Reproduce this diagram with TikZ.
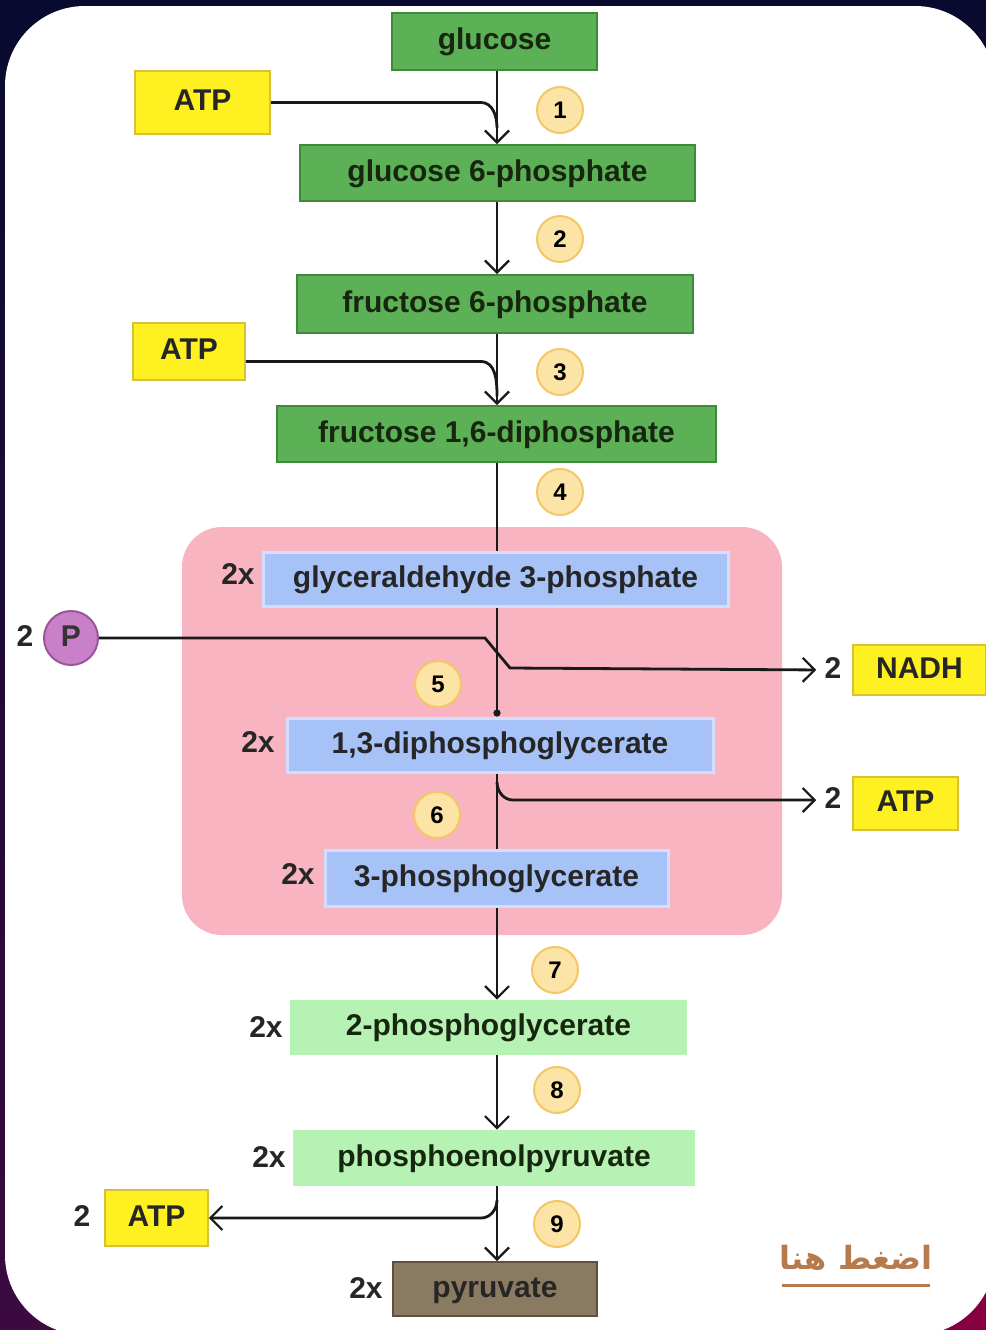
\documentclass[tikz,border=0pt]{standalone}
\usepackage{fontspec}
\setmainfont{Liberation Sans}
\newfontfamily\arabicfont[Script=Arabic]{DejaVu Sans}
\TeXXeTstate=1
\usetikzlibrary{positioning,calc,arrows,arrows.meta,shadings}
\definecolor{navybg}{HTML}{080A30}
\definecolor{purplebg}{HTML}{3A0A40}
\definecolor{maroonbg}{HTML}{88003F}
\definecolor{darkgreen}{HTML}{5CB055}
\definecolor{greenline}{HTML}{3F8A3A}
\definecolor{greentext}{HTML}{17260F}
\definecolor{lightgreen}{HTML}{B6F2B3}
\definecolor{lightblue}{HTML}{A7C2F7}
\definecolor{blueline}{HTML}{D3DEFF}
\definecolor{atpyellow}{HTML}{FFF022}
\definecolor{yellowline}{HTML}{D6C23A}
\definecolor{pinkzone}{HTML}{F8B4C0}
\definecolor{numfill}{HTML}{FCE3A6}
\definecolor{numline}{HTML}{F4C766}
\definecolor{pfill}{HTML}{C980C9}
\definecolor{pline}{HTML}{9A559A}
\definecolor{pyrbrown}{HTML}{8B7A62}
\definecolor{pyrline}{HTML}{5E5040}
\definecolor{linkbrown}{HTML}{B77A4C}
\tikzstyle{boxtext} = [font=\bfseries\fontsize{15}{17}\selectfont, inner sep=0pt, text height=10pt, text depth=2pt]
\tikzstyle{darkstep} = [boxtext, draw=greenline, fill=darkgreen, line width=1pt, text=greentext]
\tikzstyle{lightstep} = [boxtext, fill=lightgreen, text=greentext]
\tikzstyle{bluestep} = [boxtext, draw=blueline, fill=lightblue, line width=1.5pt, text=black!85]
\tikzstyle{brownstep} = [boxtext, draw=pyrline, fill=pyrbrown, line width=1pt, text=black!85]
\tikzstyle{yellowbox} = [boxtext, draw=yellowline, fill=atpyellow, line width=0.8pt, text=black!85]
\tikzstyle{count} = [boxtext, text=black!85]
\tikzstyle{stepnum} = [circle, draw=numline, fill=numfill, line width=1pt, minimum size=23pt, inner sep=0pt, font=\bfseries\fontsize{12}{14}\selectfont]
\tikzstyle{main} = [line width=1.4pt, black!90]
\tikzstyle{edge} = [main, -{Straight Barb[length=6pt, width=12pt, line width=1.1pt]}]

\begin{document}
\begin{tikzpicture}[x=0.5pt, y=-0.5pt]
	\useasboundingbox (0,0) rectangle (986,1330);
	\shade[upper left=navybg, upper right=navybg, lower left=purplebg, lower right=maroonbg] (0,0) rectangle (986,1330);
	\fill[white, rounded corners=40pt] (5,6) rectangle (995,1335);
	\fill[pinkzone, rounded corners=20pt] (182,527) rectangle (782,935);

	% pathway
	\node[darkstep, minimum width=102.5pt, minimum height=28.5pt] (gluc) at (494.5,41.5) {glucose};
	\node[darkstep, minimum width=197.5pt, minimum height=28pt] (gsixp) at (497.5,173) {glucose 6-phosphate};
	\node[darkstep, minimum width=198pt, minimum height=29pt] (fsixp) at (495,304) {fructose 6-phosphate};
	\node[darkstep, minimum width=219.5pt, minimum height=28pt] (fdip) at (496.5,434) {fructose 1,6-diphosphate};
	\node[bluestep, minimum width=232.5pt, minimum height=27pt] (gthreep) at (495.5,579) {glyceraldehyde 3-phosphate};
	\node[bluestep, minimum width=213pt, minimum height=27pt] (dpg) at (500,745) {1,3-diphosphoglycerate};
	\node[bluestep, minimum width=171.5pt, minimum height=28pt] (threepg) at (496.5,878) {3-phosphoglycerate};
	\node[lightstep, minimum width=198.5pt, minimum height=27.5pt] (twopg) at (488.5,1027.5) {2-phosphoglycerate};
	\node[lightstep, minimum width=201pt, minimum height=28pt] (pep) at (494,1158) {phosphoenolpyruvate};
	\node[brownstep, minimum width=102pt, minimum height=27pt] (pyr) at (495,1289) {pyruvate};

	% 2x counts
	\node[count] (xg) at (238,576) {2x};
	\node[count] (xd) at (258,744) {2x};
	\node[count] (xt) at (298,876) {2x};
	\node[count] (xw) at (266,1029) {2x};
	\node[count] (xp) at (269,1159) {2x};
	\node[count] (xy) at (366,1290) {2x};

	% side inputs and outputs
	\node[yellowbox, minimum width=67.5pt, minimum height=31.5pt] (atpa) at (202.5,102.5) {ATP};
	\node[yellowbox, minimum width=56pt, minimum height=28.5pt] (atpb) at (189,351.5) {ATP};
	\node[yellowbox, minimum width=66.5pt, minimum height=25pt] (nadh) at (919.5,670) {NADH};
	\node[yellowbox, minimum width=52.5pt, minimum height=26.5pt] (atpc) at (905.5,803.5) {ATP};
	\node[yellowbox, minimum width=51.5pt, minimum height=28pt] (atpd) at (156.5,1218) {ATP};
	\node[count] (twonadh) at (833,670) {2};
	\node[count] (twoatpc) at (833,800) {2};
	\node[count] (twoatpd) at (82,1218) {2};
	\node[count] (twop) at (25,638) {2};
	\node[circle, draw=pline, fill=pfill, line width=1pt, minimum size=27pt, inner sep=0pt, boxtext, text=black!80] (pcirc) at (71,638) {P};

	% step numbers
	\node[stepnum] (s1) at (560,110) {1};
	\node[stepnum] (s2) at (560,239) {2};
	\node[stepnum] (s3) at (560,372) {3};
	\node[stepnum] (s4) at (560,492) {4};
	\node[stepnum] (s5) at (438,684) {5};
	\node[stepnum] (s6) at (437,815) {6};
	\node[stepnum] (s7) at (555,970) {7};
	\node[stepnum] (s8) at (557,1090) {8};
	\node[stepnum] (s9) at (557,1224) {9};

	% connectors
	\coordinate (spine) at (497,0);
	\coordinate (join1) at (497,128);
	\coordinate (join2) at (497,396);
	\coordinate (kinka) at (485,638);
	\coordinate (kinkb) at (510,668);
	\coordinate (branch6) at (497,782);
	\coordinate (branch9) at (497,1200);

	\draw[edge] (gluc.south -| spine) -- (gsixp.north -| spine);
	\draw[main] (atpa.east) -- ($(join1 |- atpa.east)+(-16,0)$) to[out=0, in=90] (join1);
	\draw[edge] (gsixp.south -| spine) -- (fsixp.north -| spine);
	\draw[edge] (fsixp.south -| spine) -- (fdip.north -| spine);
	\draw[main] ([yshift=-5pt]atpb.east) -- ($(join2 |- atpb.east)+(-16,10)$) to[out=0, in=90] (join2);
	\draw[main] (fdip.south -| spine) -- (gthreep.north -| spine);
	\draw[main, -{Circle[length=3.5pt]}] (gthreep.south -| spine) -- (dpg.north -| spine);
	\draw[edge, shorten >=4pt] (pcirc.east) -- (kinka) -- (kinkb) -- (twonadh.west);
	\draw[main] (dpg.south -| spine) -- (threepg.north -| spine);
	\draw[edge, shorten >=4pt] (branch6) to[out=-90, in=180] ($(branch6 |- twoatpc.west)+(16,0)$) -- (twoatpc.west);
	\draw[edge] (threepg.south -| spine) -- (twopg.north -| spine);
	\draw[edge] (twopg.south -| spine) -- (pep.north -| spine);
	\draw[edge] (pep.south -| spine) -- (pyr.north -| spine);
	\draw[edge] (branch9) to[out=-90, in=0] ($(branch9 |- atpd.east)+(-16,0)$) -- (atpd.east);

	% link
	\node[text=linkbrown, font=\bfseries\fontsize{16}{19}\selectfont, inner sep=0pt] (clickhere) at (856,1258) {\arabicfont\beginR اضغط هنا\endR};
	\draw[linkbrown, line width=1.5pt] (782,1285) -- (930,1285);
\end{tikzpicture}
\end{document}
